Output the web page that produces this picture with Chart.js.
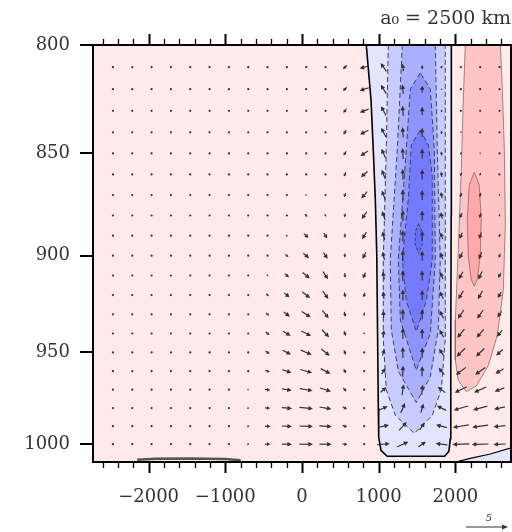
<!DOCTYPE html>
<html><head><meta charset="utf-8">
<script src="https://cdn.jsdelivr.net/npm/chart.js@4"></script>
<style>html,body{margin:0;padding:0;background:#fff}canvas{display:block}</style>
</head><body>
<canvas id="c" width="512" height="532" style="width:512px;height:532px"></canvas>
<script>
// ---- axis / tick data ----
const xTickValues = [-2000, -1000, 0, 1000, 2000];
const yTickValues = [800, 850, 900, 950, 1000];
const titleText = 'a\u2080 = 2500 km';
const refVectorValue = 5;

// ---- contour regions (x in km, y in hPa) ----
const blue1 = [[838,800],[900,825],[930,849],[956,872],[975,900],[985,940],[995,980],[1000,996],[1030,1003.5],[1110,1006.8],[1860,1006.8],[1915,1004],[1934,997],[1940,950],[1945,880],[1947,800]];
const blue2 = [[1125,800],[1099,848],[1060,902],[1060,943],[1099,970],[1217,984],[1464,994],[1699,984],[1816,970],[1868,943],[1868,800]];
const blue3 = [[1308,800],[1243,848],[1151,902],[1164,938],[1256,960],[1490,977],[1673,963],[1777,938],[1803,902],[1764,848],[1738,800]];
const blue4 = [[1542,812.6],[1412,820],[1360,848],[1256,902],[1282,933],[1490,959.5],[1673,940],[1738,902],[1725,848],[1673,820],[1542,812.6]];
const blue5 = [[1542,839],[1425,846],[1386,872],[1308,902],[1360,923],[1490,939],[1621,923],[1699,902],[1699,861],[1647,846],[1542,839]];
const blue6 = [[1520,884],[1565,888],[1570,894],[1520,899],[1475,894],[1478,888],[1520,884]];
const red1 = [[2129,800],[2103,825],[2077,858],[2038,897],[1999,933],[1999,954],[2038,965],[2142,971],[2272,968],[2428,957],[2546,941],[2625,917],[2651,884],[2638,848],[2612,820],[2586,800]];
const red2 = [[2246,859],[2311,865],[2337,882],[2324,900],[2285,912],[2246,915.5],[2207,912],[2168,900],[2155,882],[2181,865],[2246,859]];
const blueCorner = [[1999,1010],[2194,1008],[2455,1005.5],[2725,1002],[2725,1010]];
const surfaceLine = [[-2150,1008.7],[-1900,1008.2],[-1500,1008.0],[-1000,1008.3],[-800,1009]];

// ---- wind vector grid ----
const colX = [-2465,-2213,-1961,-1709,-1457,-1205,-953,-701,-449,-197,55,307,559,811,1063,1315,1567,1819,2071,2323,2575];
const rowP = [810,820,830,840,850,860,870,880,890,900,910,920,930,940,950,960,970,980,990,1000];
const U = [
 [0,0,0,0,0,0,0,0,0,0,0,0,-.5,-1.1,-.7,-.15,0,0,0,0,0],
 [0,0,0,0,0,0,0,0,0,0,0,0,-.45,-1.1,-.65,-.1,0,0,0,0,0],
 [0,0,0,0,0,0,0,0,0,0,0,0,-.4,-1.05,-.6,-.1,0,0,-.05,0,0],
 [0,0,0,0,0,0,0,0,0,0,0,0,-.35,-1.0,-.55,-.08,0,0,-.1,-.02,0],
 [0,0,0,0,0,0,0,0,0,0,0,0,-.3,-.9,-.5,-.06,0,-.05,-.15,-.05,0],
 [0,0,0,0,0,0,0,0,0,0,0,0,-.25,-.8,-.45,-.05,0,-.1,-.2,-.1,0],
 [0,0,0,0,0,0,0,0,0,0,.15,0,-.2,-.7,-.4,-.04,0,-.15,-.25,-.15,-.05],
 [0,0,0,0,0,0,0,0,0,0,.3,.2,-.1,-.6,-.35,-.03,0,-.2,-.3,-.2,-.1],
 [0,0,0,0,0,0,0,0,0,.2,.55,.4,-.05,-.5,-.3,-.02,0,-.25,-.35,-.3,-.15],
 [0,0,0,0,0,0,0,0,0,.35,.7,.5,0,-.4,-.25,0,0,-.3,-.4,-.35,-.2],
 [0,0,0,0,0,0,0,0,.2,.5,.85,.6,.05,-.3,-.2,0,0,-.35,-.5,-.45,-.3],
 [0,0,0,0,0,0,0,0,.3,.6,.95,.65,.1,-.2,-.1,0,0,-.4,-.6,-.55,-.4],
 [0,0,0,0,0,0,0,0,.35,.7,1.05,.75,.15,-.1,0,0,0,-.45,-.7,-.7,-.5],
 [0,0,0,0,0,0,0,0,.45,.9,1.15,.85,.2,0,.1,0,0,-.5,-.85,-.85,-.65],
 [0,0,0,0,0,0,0,0,.5,1.0,1.3,1.0,.25,0,.25,0,0,-.6,-1.0,-1.0,-.8],
 [0,0,0,0,0,0,0,.15,.55,1.1,1.4,1.15,.3,0,.45,.05,.05,-.7,-1.2,-1.2,-.95],
 [0,0,0,0,0,0,0,.2,.6,1.15,1.5,1.3,.4,0,.7,.2,.1,-.9,-1.45,-1.45,-1.15],
 [0,0,0,0,0,0,.1,.25,.6,1.2,1.6,1.4,.5,0,1.0,.5,.3,-1.1,-1.7,-1.7,-1.3],
 [0,0,0,0,0,0,.1,.3,.65,1.2,1.6,1.45,.55,0,1.3,.9,.6,-1.3,-1.9,-1.9,-1.4],
 [0,0,0,0,0,0,.1,.3,.65,1.2,1.6,1.45,.6,0,1.5,1.3,.9,-1.4,-2.0,-2.0,-1.45]
];
const W = [
 [0,0,0,0,0,0,0,0,0,0,0,0,-.4,-.3,1.0,.9,.5,.1,0,0,0],
 [0,0,0,0,0,0,0,0,0,0,0,0,-.45,-.35,1.05,1.1,.8,.2,-.05,0,0],
 [0,0,0,0,0,0,0,0,0,0,0,0,-.45,-.4,1.1,1.2,1.0,.3,-.1,-.05,0],
 [0,0,0,0,0,0,0,0,0,0,0,0,-.5,-.5,1.1,1.25,1.1,.4,-.2,-.1,0],
 [0,0,0,0,0,0,0,0,0,0,0,0,-.5,-.6,1.1,1.3,1.2,.5,-.3,-.2,-.05],
 [0,0,0,0,0,0,0,0,0,0,0,0,-.5,-.7,1.1,1.3,1.2,.6,-.4,-.35,-.1],
 [0,0,0,0,0,0,0,0,0,0,-.15,0,-.5,-.8,1.1,1.3,1.2,.7,-.5,-.5,-.2],
 [0,0,0,0,0,0,0,0,0,0,-.3,-.3,-.45,-.85,1.05,1.3,1.2,.75,-.6,-.6,-.3],
 [0,0,0,0,0,0,0,0,0,-.2,-.5,-.6,-.5,-.85,1.0,1.3,1.2,.8,-.7,-.75,-.4],
 [0,0,0,0,0,0,0,0,0,-.3,-.6,-.75,-.5,-.8,1.0,1.3,1.2,.85,-.8,-.85,-.5],
 [0,0,0,0,0,0,0,0,-.2,-.45,-.7,-.9,-.55,-.7,.95,1.3,1.2,.85,-.9,-.95,-.6],
 [0,0,0,0,0,0,0,0,-.3,-.5,-.7,-.95,-.6,-.55,.9,1.3,1.2,.9,-1.0,-1.0,-.7],
 [0,0,0,0,0,0,0,0,-.35,-.55,-.7,-.95,-.6,-.4,.85,1.3,1.2,.9,-1.05,-1.05,-.75],
 [0,0,0,0,0,0,0,0,-.35,-.55,-.6,-.9,-.6,-.25,.8,1.3,1.2,.9,-1.05,-1.0,-.75],
 [0,0,0,0,0,0,0,0,-.3,-.5,-.55,-.8,-.55,-.15,.75,1.3,1.2,.85,-1.0,-.95,-.7],
 [0,0,0,0,0,0,0,0,-.2,-.35,-.4,-.6,-.5,-.1,.7,1.3,1.2,.8,-.9,-.85,-.6],
 [0,0,0,0,0,0,0,0,-.1,-.2,-.25,-.4,-.4,-.05,.6,1.3,1.2,.7,-.7,-.65,-.45],
 [0,0,0,0,0,0,0,0,-.05,-.1,-.15,-.25,-.3,0,.45,1.2,1.1,.55,-.5,-.45,-.3],
 [0,0,0,0,0,0,0,0,0,-.05,-.05,-.1,-.2,0,.3,1.0,.9,.35,-.3,-.25,-.15],
 [0,0,0,0,0,0,0,0,0,0,0,0,-.05,0,.1,.6,.6,.15,-.1,-.05,-.05]
];

// ---- styling ----
const FONT = "'DejaVu Serif', serif";
const PX_PER_UNIT = 8.4;

function region(pts, fillColor, lineColor, width, dash) {
  return {
    data: pts.map(([x, y]) => ({x, y})),
    fill: fillColor ? 'shape' : false,
    backgroundColor: fillColor || 'transparent',
    borderColor: lineColor,
    borderWidth: width,
    borderDash: dash || [],
    pointRadius: 0,
    tension: 0
  };
}

const datasets = [
  region(blue1, '#e3e5ff', '#000', 1.6),
  region(blue2, '#c7cbff', '#444', 1, [5, 3]),
  region(blue3, '#aab0ff', '#444', 1, [5, 3]),
  region(blue4, '#8d94ff', '#444', 1, [5, 3]),
  region(blue5, '#747bff', '#444', 1, [5, 3]),
  region(blue6, '#656dff', '#444', 1, [3, 2]),
  region(red1, '#ffc5c5', '#8a6a6a', 0.8),
  region(red2, '#ffa9a9', '#8a6a6a', 0.8),
  region(blueCorner, '#e3e5ff', '#000', 1.2),
  region(surfaceLine, null, '#555', 2.5)
];
datasets.forEach((d, i) => d.order = 100 - i);

function drawArrow(ctx, x, y, dx, dy) {
  const L = Math.hypot(dx, dy);
  if (L < 1.5) {
    ctx.beginPath(); ctx.arc(x, y, 1.1, 0, Math.PI * 2); ctx.fill();
    return;
  }
  const ux = dx / L, uy = dy / L;
  const x0 = x - dx / 2, y0 = y - dy / 2, x1 = x + dx / 2, y1 = y + dy / 2;
  const hl = Math.min(4.5, L * 0.6), hw = Math.min(2.3, L * 0.35);
  ctx.beginPath(); ctx.moveTo(x0, y0); ctx.lineTo(x1 - ux * hl * 0.7, y1 - uy * hl * 0.7); ctx.stroke();
  ctx.beginPath();
  ctx.moveTo(x1, y1);
  ctx.lineTo(x1 - ux * hl - uy * hw, y1 - uy * hl + ux * hw);
  ctx.lineTo(x1 - ux * hl + uy * hw, y1 - uy * hl - ux * hw);
  ctx.closePath(); ctx.fill();
}

const decor = {
  id: 'decor',
  beforeDatasetsDraw(chart) {
    const {ctx, chartArea: a} = chart;
    ctx.save();
    ctx.fillStyle = '#ffe9e9';
    ctx.fillRect(a.left, a.top, a.right - a.left, a.bottom - a.top);
    ctx.restore();
  },
  afterDatasetsDraw(chart) {
    const {ctx, chartArea: a, scales: {x, y}} = chart;
    ctx.save();
    // vectors
    ctx.beginPath(); ctx.rect(a.left, a.top, a.right - a.left, a.bottom - a.top); ctx.clip();
    ctx.strokeStyle = '#333'; ctx.fillStyle = '#333'; ctx.lineWidth = 1.2; ctx.lineCap = 'butt';
    rowP.forEach((p, r) => {
      colX.forEach((xv, k) => {
        drawArrow(ctx, x.getPixelForValue(xv), y.getPixelForValue(p), U[r][k] * PX_PER_UNIT, -W[r][k] * PX_PER_UNIT);
      });
    });
    ctx.restore();
    ctx.save();
    // frame
    ctx.strokeStyle = '#000'; ctx.lineWidth = 2;
    ctx.strokeRect(a.left, a.top, a.right - a.left, a.bottom - a.top);
    // x ticks bottom and top
    for (let v = -2600; v <= 2600; v += 200) {
      const px = Math.round(x.getPixelForValue(v)) + 0.5;
      const major = v % 1000 === 0;
      const len = major ? 11 : 6;
      ctx.lineWidth = major ? 2 : 1.3;
      ctx.beginPath();
      ctx.moveTo(px, a.bottom); ctx.lineTo(px, a.bottom + len);
      ctx.moveTo(px, a.top); ctx.lineTo(px, a.top - len);
      ctx.stroke();
    }
    // y ticks
    ctx.lineWidth = 2;
    yTickValues.forEach(v => {
      const py = Math.round(y.getPixelForValue(v));
      ctx.beginPath(); ctx.moveTo(a.left - 13, py); ctx.lineTo(a.left, py); ctx.stroke();
    });
    // reference vector
    const len = refVectorValue * PX_PER_UNIT;
    const rx1 = a.right - 3, rx0 = rx1 - len, ry = a.bottom + 65;
    ctx.strokeStyle = '#333'; ctx.fillStyle = '#333'; ctx.lineWidth = 1;
    ctx.beginPath(); ctx.moveTo(rx0, ry); ctx.lineTo(rx1 - 4, ry); ctx.stroke();
    ctx.beginPath(); ctx.moveTo(rx1, ry); ctx.lineTo(rx1 - 6, ry - 2.5); ctx.lineTo(rx1 - 6, ry + 2.5); ctx.closePath(); ctx.fill();
    ctx.font = "italic 10px " + FONT; ctx.textAlign = 'center'; ctx.textBaseline = 'alphabetic';
    ctx.fillText(String(refVectorValue), (rx0 + rx1) / 2 + 2, ry - 6);
    ctx.restore();
  }
};

new Chart(document.getElementById('c'), {
  type: 'line',
  data: { datasets },
  options: {
    responsive: false,
    animation: false,
    events: [],
    layout: { padding: { left: 0, right: 1, top: 0, bottom: 0 } },
    plugins: {
      legend: { display: false },
      tooltip: { enabled: false },
      title: {
        display: true, text: titleText, align: 'end', color: '#333',
        font: { family: FONT, size: 19, weight: 'normal', lineHeight: 1.2 },
        padding: { top: 8, bottom: 14.2 }
      }
    },
    scales: {
      x: {
        type: 'linear', min: -2725, max: 2725,
        afterBuildTicks: s => { s.ticks = xTickValues.map(v => ({value: v})); },
        afterFit: s => { s.height = 70; },
        grid: { display: false, drawTicks: false },
        border: { display: false },
        ticks: {
          color: '#333', padding: 25, maxRotation: 0, autoSkip: false,
          font: { family: FONT, size: 18 },
          callback: v => v < 0 ? '\u2212' + (-v) : String(v)
        }
      },
      y: {
        type: 'logarithmic', reverse: true, min: 800, max: 1010,
        afterBuildTicks: s => { s.ticks = yTickValues.map(v => ({value: v})); },
        afterFit: s => { s.width = 93; },
        grid: { display: false, drawTicks: false },
        border: { display: false },
        ticks: {
          color: '#333', padding: 23, autoSkip: false,
          font: { family: FONT, size: 18 },
          callback: v => String(v)
        }
      }
    }
  },
  plugins: [decor]
});
</script>
</body></html>
